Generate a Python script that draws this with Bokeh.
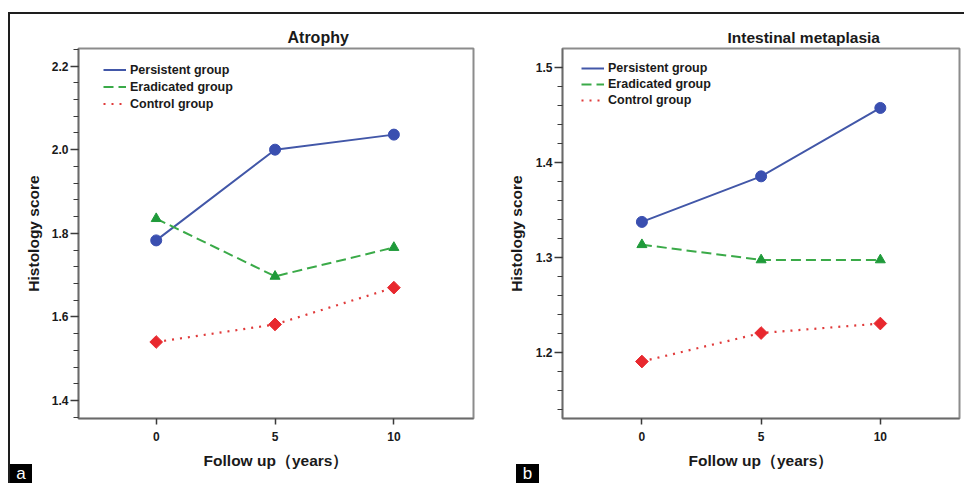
import numpy as np
from bokeh.plotting import figure
from bokeh.layouts import row, column
from bokeh.models import (FixedTicker, Legend, LegendItem, Range1d,
                          PrintfTickFormatter, Div)
from bokeh.embed import file_html
from bokeh.resources import INLINE

# ---------------- data ----------------
years = [0, 5, 10]
x_ticks = [0, 5, 10]
series_names = ["Persistent group", "Eradicated group", "Control group"]

atrophy_persistent = [1.783, 2.000, 2.036]
atrophy_eradicated = [1.835, 1.697, 1.766]
atrophy_control = [1.540, 1.582, 1.670]
atrophy_y_ticks = [1.4, 1.6, 1.8, 2.0, 2.2]

im_persistent = [1.337, 1.385, 1.457]
im_eradicated = [1.313, 1.297, 1.297]
im_control = [1.190, 1.220, 1.230]
im_y_ticks = [1.2, 1.3, 1.4, 1.5]

panel_tags = ["a", "b"]

FONT = "Liberation Sans"
TXT = "#1a1a1a"
BLUE_L, BLUE_M = "#4257a8", "#3a4fb0"
GREEN_L, GREEN_M = "#3aaa48", "#1f9a3a"
RED_L, RED_M = "#e03a3a", "#e8282e"


def make_panel(title, ys, yticks, yminor, xr, yr, width, height, borders,
               title_offset, title_standoff, title_size, legend_loc, row_h,
               ylab_standoff):
    bl, br, bt, bb = borders
    p = figure(width=width, height=height, output_backend="svg", toolbar_location=None,
               x_range=Range1d(*xr), y_range=Range1d(*yr),
               min_border_left=bl, min_border_right=br, min_border_top=bt, min_border_bottom=bb)
    p.title.text = title
    p.title.text_font = FONT
    p.title.text_font_size = title_size
    p.title.text_font_style = "bold"
    p.title.text_color = TXT
    p.title.align = "left"
    p.title.offset = title_offset
    p.title.standoff = title_standoff
    p.grid.visible = False
    p.outline_line_color = "#8c8c8c"
    p.outline_line_width = 2
    p.background_fill_color = "white"
    p.border_fill_color = "white"

    # axes
    p.xaxis.ticker = FixedTicker(ticks=x_ticks, minor_ticks=[])
    p.yaxis.ticker = FixedTicker(ticks=yticks, minor_ticks=yminor)
    p.yaxis.formatter = PrintfTickFormatter(format="%.1f")
    for ax in (p.xaxis, p.yaxis):
        ax.axis_line_color = "#6a6a6a"
        ax.axis_line_width = 1.5
        ax.major_tick_line_color = "#3a3a3a"
        ax.major_tick_line_width = 1.5
        ax.minor_tick_line_color = "#3a3a3a"
        ax.minor_tick_line_width = 1.2
        ax.major_tick_in = 0
        ax.minor_tick_in = 0
        ax.major_label_text_font = FONT
        ax.major_label_text_font_style = "bold"
        ax.major_label_text_font_size = "12px"
        ax.major_label_text_color = TXT
        ax.axis_label_text_font = FONT
        ax.axis_label_text_font_style = "bold"
        ax.axis_label_text_font_size = "15.5px"
        ax.axis_label_text_color = TXT
    p.xaxis.major_tick_out = 6
    p.xaxis.major_label_standoff = 7
    p.xaxis.axis_label = "Follow up（years）"
    p.xaxis.axis_label_standoff = 8
    p.yaxis.major_tick_out = 8
    p.yaxis.minor_tick_out = 5
    p.yaxis.major_label_standoff = 2
    p.yaxis.axis_label = "Histology score"
    p.yaxis.axis_label_standoff = ylab_standoff

    per, era, con = ys
    l1 = p.line(years, per, line_color=BLUE_L, line_width=2)
    l2 = p.line(years, era, line_color=GREEN_L, line_width=2, line_dash="10 5")
    l3 = p.line(years, con, line_color=RED_L, line_width=2.2, line_dash="2 6")
    p.scatter(years, per, marker="circle", size=11, fill_color=BLUE_M, line_color=BLUE_M)
    p.scatter(years, era, marker="triangle", size=10, fill_color=GREEN_M, line_color=GREEN_M)
    p.scatter(years, con, marker="square", size=9, angle=np.pi / 4,
              fill_color=RED_M, line_color=RED_M)

    legend = Legend(items=[LegendItem(label=series_names[0], renderers=[l1]),
                           LegendItem(label=series_names[1], renderers=[l2]),
                           LegendItem(label=series_names[2], renderers=[l3])],
                    location=legend_loc, padding=0, margin=0, spacing=0,
                    glyph_width=23, glyph_height=row_h, label_height=row_h,
                    label_standoff=4, label_text_font=FONT, label_text_font_style="bold",
                    label_text_font_size="12.5px", label_text_color=TXT,
                    background_fill_alpha=0, border_line_alpha=0)
    p.add_layout(legend, "center")
    return p


atrophy_minor = list(np.round(np.arange(1.36, 2.2401, 0.04), 2))
im_minor = list(np.round(np.arange(1.14, 1.5001, 0.02), 2))

p1 = make_panel("Atrophy", (atrophy_persistent, atrophy_eradicated, atrophy_control),
                atrophy_y_ticks, atrophy_minor, (-3.27, 13.35), (1.357, 2.242),
                473, 469, (68, 10, 34, 65), 209, 5, "16px", (25, 306), 17, 7)
p2 = make_panel("Intestinal metaplasia", (im_persistent, im_eradicated, im_control),
                im_y_ticks, im_minor, (-3.33, 13.32), (1.130, 1.5196),
                481, 469, (79, 5, 31, 61), 165, 5, "15.5px", (19, 310), 16, 8)

tag_style = {"background-color": "black", "color": "white", "font-family": FONT,
             "font-size": "17px", "line-height": "19px", "text-align": "center",
             "overflow": "hidden"}
tag_a = Div(text=panel_tags[0], width=22, height=19, margin=(0, 0, 0, 0),
            styles=dict(tag_style))
tag_b = Div(text=panel_tags[1], width=23, height=19, margin=(0, 0, 0, 484),
            styles=dict(tag_style))
tags = row(tag_a, tag_b, styles={"margin-top": "-19px"})

layout = column(row(p1, p2), tags,
                styles={"margin-top": "12px", "margin-left": "8px",
                        "border-top": "2px solid #1e1e1e",
                        "border-left": "2px solid #1e1e1e"})

open("out.html", "w").write(file_html(layout, INLINE))
